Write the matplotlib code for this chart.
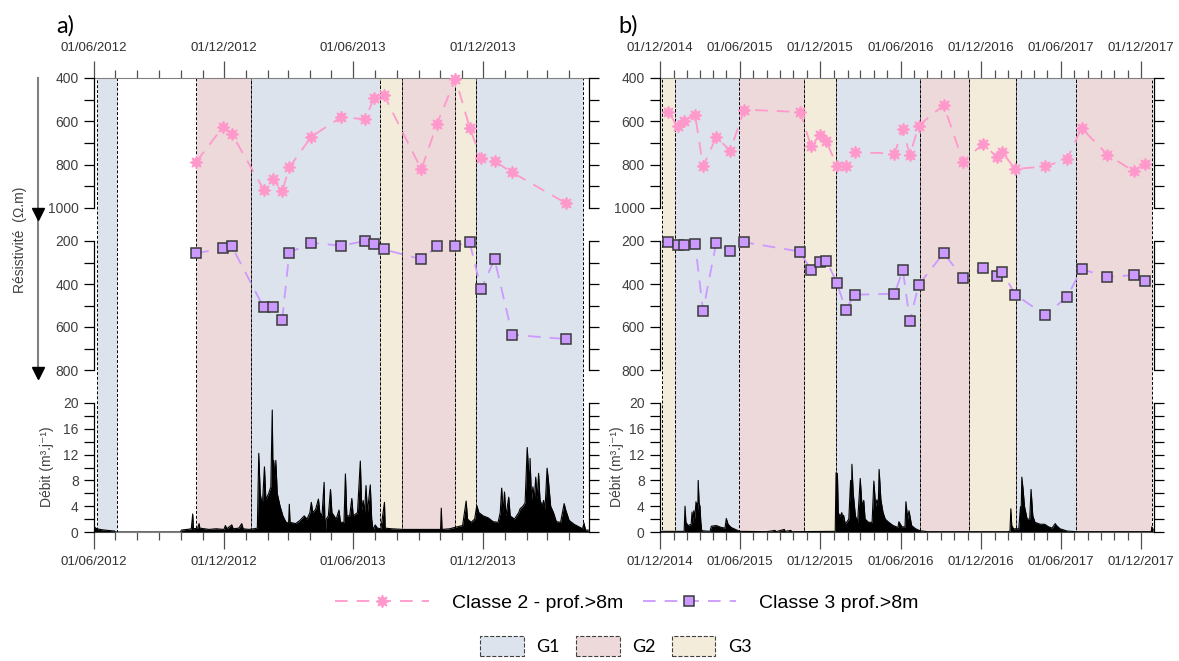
import pandas as pd
import matplotlib
matplotlib.use("Agg")
import matplotlib.pyplot as plt
import matplotlib.dates as mdates
from matplotlib.lines import Line2D
from matplotlib.patches import Patch
from matplotlib.ticker import MultipleLocator

# ─────────────────────────────────────────────
# Data
# ─────────────────────────────────────────────
# panel a) – 2012/2014
A_DATES = ["2012-10-23", "2012-11-30", "2012-12-12", "2013-01-26", "2013-02-08",
           "2013-02-21", "2013-03-03", "2013-04-03", "2013-05-15", "2013-06-18",
           "2013-06-30", "2013-07-14", "2013-09-05", "2013-09-27", "2013-10-23",
           "2013-11-12", "2013-11-28", "2013-12-17", "2014-01-11", "2014-03-27"]
A_CLASSE2 = [787, 624, 658, 915, 867, 923, 813, 671, 581, 590,
             493, 477, 822, 612, 403, 629, 771, 785, 836, 977]
A_CLASSE3 = [257, 234, 225, 509, 506, 566, 254, 208, 222, 200,
             214, 239, 285, 225, 222, 206, 424, 285, 636, 656]

A_Q_DATES = ["2012-06-01", "2012-06-05", "2012-06-12", "2012-06-20", "2012-06-30", "2012-07-01",
             "2012-10-01", "2012-10-02", "2012-10-10", "2012-10-16", "2012-10-18", "2012-10-19",
             "2012-10-25", "2012-10-27", "2012-10-28", "2012-11-10", "2012-11-20", "2012-12-01",
             "2012-12-03", "2012-12-05", "2012-12-12", "2012-12-14", "2012-12-22", "2012-12-26",
             "2012-12-28", "2013-01-05", "2013-01-12", "2013-01-17", "2013-01-19", "2013-01-21",
             "2013-01-24", "2013-01-27", "2013-01-29", "2013-02-02", "2013-02-05", "2013-02-07",
             "2013-02-08", "2013-02-09", "2013-02-11", "2013-02-12", "2013-02-14", "2013-02-18",
             "2013-02-22", "2013-02-26", "2013-03-02", "2013-03-03", "2013-03-04", "2013-03-12",
             "2013-03-18", "2013-03-24", "2013-03-28", "2013-04-01", "2013-04-03", "2013-04-05",
             "2013-04-09", "2013-04-13", "2013-04-15", "2013-04-18", "2013-04-21", "2013-04-22",
             "2013-04-23", "2013-04-24", "2013-04-27", "2013-04-30", "2013-05-02", "2013-05-08",
             "2013-05-12", "2013-05-14", "2013-05-19", "2013-05-21", "2013-05-23", "2013-05-27",
             "2013-05-30", "2013-06-01", "2013-06-07", "2013-06-11", "2013-06-13", "2013-06-15",
             "2013-06-17", "2013-06-19", "2013-06-21", "2013-06-25", "2013-06-27", "2013-06-29",
             "2013-07-02", "2013-07-05", "2013-07-10", "2013-07-15", "2013-07-16", "2013-07-25",
             "2013-08-10", "2013-09-01", "2013-09-20", "2013-10-02", "2013-10-03", "2013-10-04",
             "2013-10-15", "2013-10-25", "2013-11-02", "2013-11-07", "2013-11-09", "2013-11-14",
             "2013-11-19", "2013-11-22", "2013-11-25", "2013-12-01", "2013-12-08", "2013-12-15",
             "2013-12-22", "2013-12-25", "2013-12-27", "2013-12-29", "2013-12-31", "2014-01-02",
             "2014-01-06", "2014-01-08", "2014-01-14", "2014-01-20", "2014-01-22", "2014-01-26",
             "2014-01-29", "2014-02-01", "2014-02-03", "2014-02-04", "2014-02-05", "2014-02-07",
             "2014-02-09", "2014-02-11", "2014-02-13", "2014-02-15", "2014-02-17", "2014-02-19",
             "2014-02-22", "2014-02-24", "2014-02-26", "2014-03-01", "2014-03-03", "2014-03-06",
             "2014-03-10", "2014-03-14", "2014-03-20", "2014-03-25", "2014-03-27", "2014-04-01",
             "2014-04-08", "2014-04-15", "2014-04-20", "2014-04-22", "2014-04-24", "2014-04-28"]
A_Q = [0.8, 0.5, 0.35, 0.25, 0.15, 0.0,
       0.0, 0.3, 0.4, 0.5, 2.8, 0.5,
       0.6, 1.3, 0.6, 0.4, 0.5, 0.4,
       1.0, 0.5, 1.1, 0.5, 0.6, 1.3,
       0.5, 0.4, 0.5, 0.6, 12.2, 6.0,
       4.0, 10.1, 5.0, 6.0, 7.0, 18.9,
       9.0, 11.1, 8.0, 11.1, 6.0, 4.0,
       2.5, 1.6, 1.3, 4.3, 1.5, 1.3,
       1.8, 2.5, 2.0, 3.0, 4.6, 3.0,
       3.5, 5.1, 3.0, 2.5, 7.7, 2.0,
       0.2, 2.0, 2.5, 6.6, 3.0, 2.0,
       3.4, 1.5, 1.5, 9.0, 2.5, 2.5,
       5.2, 2.5, 3.0, 11.0, 3.4, 4.9,
       3.0, 7.2, 3.0, 7.3, 2.0, 0.3,
       1.1, 0.6, 0.5, 4.6, 0.6, 0.5,
       0.4, 0.4, 0.4, 0.4, 3.7, 0.4,
       0.5, 0.8, 1.0, 4.8, 2.0, 1.5,
       2.0, 4.1, 3.0, 2.5, 2.2, 1.6,
       1.5, 3.0, 6.8, 3.0, 6.2, 2.5,
       5.4, 2.5, 2.0, 3.0, 3.6, 4.0,
       4.5, 13.1, 9.3, 5.5, 11.4, 5.0,
       7.0, 5.0, 8.5, 5.0, 9.1, 5.0,
       4.0, 4.9, 3.5, 9.9, 7.8, 4.0,
       3.0, 1.6, 1.5, 4.4, 3.5, 1.8,
       1.2, 0.8, 0.5, 1.4, 0.3, 0.3]

A_PERIODS = [("2012-06-05", "2012-07-03", "G1"), ("2012-10-22", "2013-01-08", "G2"),
             ("2013-01-08", "2013-07-09", "G1"), ("2013-07-09", "2013-08-08", "G3"),
             ("2013-08-08", "2013-10-22", "G2"), ("2013-10-22", "2013-11-21", "G3"),
             ("2013-11-21", "2014-04-21", "G1")]
A_XLIM = ("2012-06-01", "2014-04-29")

# panel b) – 2014/2017
B_DATES = ["2014-12-19", "2015-01-10", "2015-01-24", "2015-02-19", "2015-03-09",
           "2015-04-08", "2015-05-10", "2015-06-11", "2015-10-16", "2015-11-10",
           "2015-11-30", "2015-12-15", "2016-01-08", "2016-01-28", "2016-02-17",
           "2016-05-18", "2016-06-06", "2016-06-22", "2016-07-12", "2016-09-07",
           "2016-10-21", "2016-12-06", "2017-01-06", "2017-01-18", "2017-02-17",
           "2017-04-26", "2017-06-15", "2017-07-18", "2017-09-15", "2017-11-14",
           "2017-12-09"]
B_CLASSE2 = [558, 620, 600, 569, 808, 674, 735, 546, 557, 715, 662, 692, 808, 808, 742,
             749, 635, 757, 620, 525, 786, 703, 765, 743, 820, 808, 775, 631, 754, 831, 795]
B_CLASSE3 = [203, 219, 217, 212, 525, 209, 248, 206, 249, 336, 296, 291, 395, 522, 450,
             445, 336, 571, 404, 256, 373, 325, 362, 342, 449, 545, 460, 331, 367, 359, 384]

B_Q_DATES = ["2014-12-01", "2015-01-25", "2015-01-27", "2015-01-29", "2015-02-03", "2015-02-10",
             "2015-02-12", "2015-02-14", "2015-02-16", "2015-02-18", "2015-02-21", "2015-02-23",
             "2015-02-24", "2015-02-25", "2015-02-26", "2015-02-28", "2015-03-02", "2015-03-04",
             "2015-03-06", "2015-03-25", "2015-03-28", "2015-04-08", "2015-04-20", "2015-04-28",
             "2015-05-01", "2015-05-05", "2015-05-12", "2015-05-25", "2015-06-01", "2015-08-01",
             "2015-08-20", "2015-08-22", "2015-09-10", "2015-09-12", "2015-09-25", "2015-09-27",
             "2016-01-04", "2016-01-06", "2016-01-08", "2016-01-09", "2016-01-11", "2016-01-15",
             "2016-01-19", "2016-01-21", "2016-01-23", "2016-01-27", "2016-02-04", "2016-02-08",
             "2016-02-10", "2016-02-11", "2016-02-14", "2016-02-19", "2016-02-24", "2016-03-01",
             "2016-03-05", "2016-03-09", "2016-03-12", "2016-03-20", "2016-03-28", "2016-04-01",
             "2016-04-05", "2016-04-08", "2016-04-11", "2016-04-13", "2016-04-17", "2016-04-22",
             "2016-04-27", "2016-05-05", "2016-05-15", "2016-05-26", "2016-05-28", "2016-06-04",
             "2016-06-11", "2016-06-13", "2016-06-17", "2016-06-20", "2016-06-26", "2016-07-05",
             "2016-07-15", "2016-08-01", "2017-01-31", "2017-02-05", "2017-02-07", "2017-02-09",
             "2017-02-13", "2017-02-25", "2017-03-01", "2017-03-02", "2017-03-04", "2017-03-07",
             "2017-03-10", "2017-03-16", "2017-03-22", "2017-03-25", "2017-03-29", "2017-04-03",
             "2017-04-15", "2017-04-25", "2017-05-04", "2017-05-12", "2017-05-19", "2017-05-22",
             "2017-05-30", "2017-06-15", "2017-07-05", "2017-12-24", "2017-12-25", "2017-12-28"]
B_Q = [0.1, 0.1, 4.0, 1.5, 1.0, 1.2,
       3.1, 1.5, 3.3, 2.0, 4.7, 3.5,
       4.4, 3.0, 8.0, 4.5, 4.0, 1.5,
       0.2, 0.1, 0.9, 1.0, 0.7, 0.6,
       2.1, 1.2, 0.7, 0.3, 0.1, 0.05,
       0.25, 0.05, 0.4, 0.1, 0.25, 0.05,
       0.1, 9.2, 3.0, 9.1, 3.0, 2.4,
       3.0, 1.8, 2.6, 1.2, 2.0, 8.0,
       4.0, 10.5, 6.0, 2.5, 1.5, 8.3,
       4.0, 4.9, 2.0, 1.5, 1.5, 7.9,
       4.0, 5.0, 4.0, 9.7, 5.0, 3.0,
       2.0, 1.5, 1.0, 0.7, 1.6, 0.8,
       0.8, 4.7, 2.0, 3.3, 1.0, 0.5,
       0.2, 0.05, 0.05, 0.1, 3.6, 1.0,
       0.5, 0.5, 3.9, 1.5, 8.5, 6.5,
       4.0, 2.0, 2.0, 6.6, 2.5, 1.5,
       1.2, 1.2, 0.8, 0.6, 1.3, 1.0,
       0.5, 0.15, 0.05, 0.05, 0.8, 0.4]

B_PERIODS = [("2014-12-05", "2015-01-05", "G3"), ("2015-01-05", "2015-05-31", "G1"),
             ("2015-05-31", "2015-10-24", "G2"), ("2015-10-24", "2016-01-06", "G3"),
             ("2016-01-06", "2016-07-15", "G1"), ("2016-07-15", "2016-11-04", "G2"),
             ("2016-11-04", "2017-02-18", "G3"), ("2017-02-18", "2017-07-05", "G1"),
             ("2017-07-05", "2017-12-26", "G2")]
B_XLIM = ("2014-12-01", "2017-12-30")

# ─────────────────────────────────────────────
# Style
# ─────────────────────────────────────────────
GROUP_COLORS = {"G1": "#DCE3ED", "G2": "#EDD9D9", "G3": "#F3ECDA"}
PINK = "#FF99CC"
LILAC = "#CC99FF"
TXT = "#404040"
DASH = (0, (7, 5))

plt.rcParams["font.family"] = ["Liberation Sans", "DejaVu Sans"]

W, H = 1179, 661
fig = plt.figure(figsize=(W / 100, H / 100), dpi=100)


def box(x0, y0, x1, y1):
    return [x0 / W, 1 - y1 / H, (x1 - x0) / W, (y1 - y0) / H]


def ts(lst):
    return pd.to_datetime(lst)


def sub_axes(x0, x1, y0, y1, bg, ylim, major, minor):
    ax = fig.add_axes(box(x0, y0, x1, y1), sharex=bg)
    ax.patch.set_visible(False)
    ax.set_ylim(*ylim)
    ax.spines[["top", "bottom"]].set_visible(False)
    for s in ["left", "right"]:
        ax.spines[s].set_linewidth(0.9)
    ax.tick_params(axis="x", which="both", bottom=False, top=False,
                   labelbottom=False, labeltop=False)
    ax.tick_params(axis="y", which="both", left=True, right=True, direction="out",
                   length=7, width=0.9, labelsize=10, labelcolor=TXT, pad=4)
    ax.yaxis.set_major_locator(MultipleLocator(major))
    ax.yaxis.set_minor_locator(MultipleLocator(minor))
    return ax


def draw_panel(x0, x1, dates, c2, c3, qd, qv, periods, xlim):
    # background axes: periods + date axis
    bg = fig.add_axes(box(x0, 78, x1, 532))
    bg.xaxis_date()
    bg.set_xlim(pd.Timestamp(xlim[0]), pd.Timestamp(xlim[1]))
    bg.set_ylim(0, 1)
    bg.set_yticks([])
    bg.spines[["left", "right"]].set_visible(False)
    bg.spines["top"].set_color("#808080")
    bg.spines["bottom"].set_color("#808080")
    for start, end, g in periods:
        bg.axvspan(pd.Timestamp(start), pd.Timestamp(end), facecolor=GROUP_COLORS[g],
                   edgecolor="black", linestyle=(0, (3, 2)), linewidth=0.7)
    bg.xaxis.set_major_locator(mdates.MonthLocator(bymonth=[6, 12]))
    bg.xaxis.set_minor_locator(mdates.MonthLocator())
    bg.xaxis.set_major_formatter(mdates.DateFormatter("%d/%m/%Y"))
    bg.tick_params(axis="x", which="both", top=True, labeltop=True, bottom=True,
                   labelbottom=True, direction="out", color="#505050", width=0.9)
    bg.tick_params(axis="x", which="major", length=12, labelsize=9.5, labelcolor="#303030", pad=5)
    bg.tick_params(axis="x", which="minor", length=6)

    d = ts(dates)
    ax2 = sub_axes(x0, x1, 78, 208, bg, (1000, 400), 200, 100)
    ax2.plot(d, c2, color=PINK, linestyle=DASH, linewidth=1.3, marker=(8, 1, 0),
             markersize=9, markerfacecolor=PINK, markeredgecolor=PINK, clip_on=False)

    ax3 = sub_axes(x0, x1, 241, 370, bg, (800, 200), 200, 100)
    ax3.plot(d, c3, color=LILAC, linestyle=DASH, linewidth=1.3, marker="s",
             markersize=7.5, markerfacecolor=LILAC, markeredgecolor="#3a3a3a",
             markeredgewidth=1.1, clip_on=False)

    axq = sub_axes(x0, x1, 403, 532, bg, (0, 20), 4, 2)
    q = ts(qd)
    axq.fill_between(q, qv, 0, color="black", linewidth=0)
    axq.plot(q, qv, color="black", linewidth=0.8)
    return bg


draw_panel(94, 589, A_DATES, A_CLASSE2, A_CLASSE3, A_Q_DATES, A_Q, A_PERIODS, A_XLIM)
draw_panel(660, 1154, B_DATES, B_CLASSE2, B_CLASSE3, B_Q_DATES, B_Q, B_PERIODS, B_XLIM)

# panel letters
fig.text(56 / W, 1 - 26 / H, "a)", fontsize=17, family=["Lato", "DejaVu Sans"], va="center")
fig.text(618 / W, 1 - 26 / H, "b)", fontsize=17, family=["Lato", "DejaVu Sans"], va="center")

# axis titles
fig.text(20 / W, 1 - 240 / H, "Résistivité  (Ω.m)", rotation=90, fontsize=10,
         color=TXT, ha="center", va="center")
fig.text(47 / W, 1 - 467 / H, "Débit (m³.j⁻¹)", rotation=90, fontsize=10,
         color=TXT, ha="center", va="center")
fig.text(617 / W, 1 - 467 / H, "Débit (m³.j⁻¹)", rotation=90, fontsize=10,
         color=TXT, ha="center", va="center")

# depth arrow
fig.add_artist(Line2D([38 / W, 38 / W], [1 - 78 / H, 1 - 372 / H], color="#808080", linewidth=1.5))
fig.add_artist(Line2D([38 / W], [1 - 214 / H], marker="v", markersize=8, color="black", linestyle="none"))
fig.add_artist(Line2D([38 / W], [1 - 373 / H], marker="v", markersize=8, color="black", linestyle="none"))

# legends
line_handles = [
    Line2D([0], [0], color=PINK, linestyle=DASH, linewidth=1.3, marker=(8, 1, 0),
           markersize=9, markerfacecolor=PINK, markeredgecolor=PINK),
    Line2D([0], [0], color=LILAC, linestyle=DASH, linewidth=1.3, marker="s",
           markersize=7.5, markerfacecolor=LILAC, markeredgecolor="#3a3a3a", markeredgewidth=1.1),
]
fig.legend(line_handles, ["Classe 2 - prof.>8m", "Classe 3 prof.>8m"], loc="center",
           bbox_to_anchor=(627 / W, 1 - 603 / H), ncol=2, frameon=False, fontsize=14,
           handlelength=4.8, handletextpad=1.2, columnspacing=1.0)

patch_handles = [Patch(facecolor=GROUP_COLORS[g], edgecolor="#404040", linestyle="--", linewidth=0.8)
                 for g in ["G1", "G2", "G3"]]
fig.legend(patch_handles, ["G1", "G2", "G3"], loc="center",
           bbox_to_anchor=(616 / W, 1 - 646 / H), ncol=3, frameon=False,
           prop={"family": ["Lato", "DejaVu Sans"], "size": 13},
           handlelength=2.4, handleheight=1.25, handletextpad=0.7, columnspacing=0.9)

fig.savefig("out.png", dpi=100)
